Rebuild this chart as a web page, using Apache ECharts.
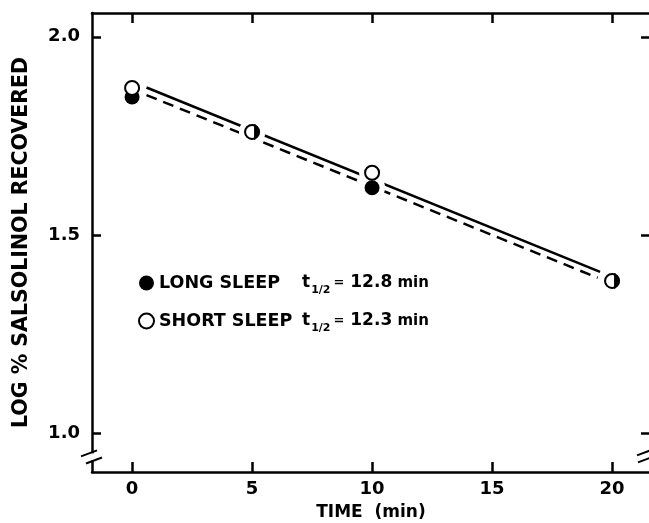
<!DOCTYPE html>
<html>
<head>
<meta charset="utf-8">
<script src="https://cdn.jsdelivr.net/npm/echarts@6/dist/echarts.min.js"></script>
<style>
  html, body { margin: 0; padding: 0; background: #fff; }
  #chart { width: 649px; height: 523px; }
</style>
</head>
<body>
<div id="chart"></div>
<script>
// 数据
const timeMin = [0, 5, 10, 20];
const longSleep = [1.848, 1.760, 1.619, 1.384];
const shortSleep = [1.871, 1.760, 1.657, 1.384];
// 回归线两端
const shortFitT = [0.6, 19.5];
const shortFitY = [1.872, 1.407];
const longFitT = [0.6, 19.4];
const longFitY = [1.853, 1.392];
const xTicks = [0, 5, 10, 15, 20];
const yTicks = [1.0, 1.5, 2.0];
const seriesNames = ['LONG SLEEP', 'SHORT SLEEP'];
const halfLives = ['12.8', '12.3'];

const font = 'DejaVu Sans';
const X_MIN = -1.67, X_MAX = 21.58;
const Y_MIN = 0.902, Y_MAX = 2.06;

const pairs = (xs, ys) => xs.map((x, i) => [x, ys[i]]);
// 两组数据重合的点画成半黑圆
const shared = timeMin
  .map((t, i) => [t, longSleep[i], shortSleep[i]])
  .filter(d => d[1] === d[2])
  .map(d => [d[0], d[1]]);

const chart = echarts.init(document.getElementById('chart'));

const baseY = {
  type: 'value',
  min: Y_MIN,
  max: Y_MAX,
  splitLine: { show: false },
  axisLine: { show: true, onZero: false, lineStyle: { color: '#000', width: 2.5 } },
  axisTick: { show: true, inside: true, length: 9, customValues: yTicks, lineStyle: { color: '#000', width: 2.5 } }
};

const txt = (size) => ({ fontFamily: font, fontWeight: 'bold', fontSize: size, color: '#000', lineHeight: 26 });

const option = {
  animation: false,
  backgroundColor: '#fff',
  grid: { left: 92, right: -1, top: 13, bottom: 51, outerBoundsMode: 'none', containLabel: false },
  legend: {
    orient: 'vertical',
    left: 133,
    top: 269,
    itemWidth: 15,
    itemHeight: 15,
    itemGap: 16,
    icon: 'circle',
    data: seriesNames,
    formatter: name => {
      const i = seriesNames.indexOf(name);
      return `{n|${name}}{t|t}{s|1/2}{e|=}{v| ${halfLives[i]}}{m| min}`;
    },
    textStyle: {
      fontFamily: font,
      fontWeight: 'bold',
      color: '#000',
      rich: {
        n: Object.assign(txt(17.5), { verticalAlign: 'middle', width: 143 }),
        t: Object.assign(txt(17), { verticalAlign: 'middle' }),
        s: Object.assign(txt(11), { verticalAlign: 'bottom', padding: [0, 3, 0, 1] }),
        e: Object.assign(txt(13), { verticalAlign: 'middle' }),
        v: Object.assign(txt(17), { verticalAlign: 'middle' }),
        m: Object.assign(txt(15), { verticalAlign: 'middle' })
      }
    }
  },
  xAxis: [
    {
      type: 'value',
      min: X_MIN,
      max: X_MAX,
      name: 'TIME  (min)',
      nameLocation: 'middle',
      nameGap: 32,
      nameTextStyle: { fontFamily: font, fontWeight: 'bold', fontSize: 17, color: '#000' },
      splitLine: { show: false },
      axisLine: { show: true, onZero: false, lineStyle: { color: '#000', width: 2.5 } },
      axisTick: { show: true, inside: true, length: 10, customValues: xTicks, lineStyle: { color: '#000', width: 2.5 } },
      axisLabel: { customValues: xTicks, margin: 8, fontFamily: font, fontWeight: 'bold', fontSize: 18, color: '#000' }
    },
    {
      type: 'value',
      position: 'top',
      min: X_MIN,
      max: X_MAX,
      splitLine: { show: false },
      axisLine: { show: true, onZero: false, lineStyle: { color: '#000', width: 2.5 } },
      axisTick: { show: true, inside: true, length: 10, customValues: xTicks, lineStyle: { color: '#000', width: 2.5 } },
      axisLabel: { show: false }
    }
  ],
  yAxis: [
    Object.assign({}, baseY, {
      name: 'LOG % SALSOLINOL RECOVERED',
      nameLocation: 'middle',
      nameGap: 60,
      nameRotate: 90,
      nameTextStyle: { fontFamily: font, fontWeight: 'bold', fontSize: 20.5, color: '#000' },
      axisLabel: { customValues: yTicks, margin: 12, formatter: v => v.toFixed(1), fontFamily: font, fontWeight: 'bold', fontSize: 18, color: '#000' }
    }),
    Object.assign({}, baseY, {
      position: 'right',
      axisLabel: { show: false }
    })
  ],
  series: [
    {
      name: 'SHORT SLEEP fit',
      type: 'line',
      data: pairs(shortFitT, shortFitY),
      symbol: 'none',
      lineStyle: { color: '#000', width: 2.5 },
      z: 1
    },
    {
      name: 'LONG SLEEP fit',
      type: 'line',
      data: pairs(longFitT, longFitY),
      symbol: 'none',
      lineStyle: { color: '#000', width: 2.5, type: [11, 7] },
      z: 1
    },
    {
      name: 'halo',
      type: 'scatter',
      data: pairs(timeMin, longSleep).concat(pairs(timeMin, shortSleep)).slice(1),
      symbol: 'circle',
      symbolSize: 26,
      itemStyle: { color: '#fff', opacity: 1 },
      silent: true,
      z: 2
    },
    {
      name: 'LONG SLEEP',
      type: 'scatter',
      data: pairs(timeMin, longSleep),
      symbol: 'circle',
      symbolSize: 15,
      itemStyle: { color: '#000', opacity: 1 },
      z: 3
    },
    {
      name: 'SHORT SLEEP',
      type: 'scatter',
      data: pairs(timeMin, shortSleep),
      symbol: 'circle',
      symbolSize: 14,
      itemStyle: { color: '#fff', borderColor: '#000', borderWidth: 2, opacity: 1 },
      z: 4
    },
    {
      name: 'shared',
      type: 'scatter',
      data: shared,
      symbol: 'path://M0,0 A10,10 0 0 1 0,20 Z',
      symbolKeepAspect: true,
      symbolSize: [8, 16],
      symbolOffset: [4, 0],
      itemStyle: { color: '#000', opacity: 1 },
      z: 5
    }
  ]
};

chart.setOption(option);

// 坐标轴断裂符号
const lp = (x, y) => chart.convertToPixel({ gridIndex: 0 }, [x, y]);
const a = lp(X_MIN, 0.949);
const b = lp(X_MIN, 0.931);
const r = lp(X_MAX, 0.949);
const slash = (cx, cy) => ({
  type: 'line',
  shape: { x1: cx - 8, y1: cy + 3, x2: cx + 8, y2: cy - 3 },
  style: { stroke: '#000', lineWidth: 2 },
  z: 100
});
chart.setOption({
  graphic: [
    { type: 'rect', shape: { x: a[0] - 4, y: a[1], width: 8, height: b[1] - a[1] }, style: { fill: '#fff' }, z: 99 },
    slash(a[0] - 3, a[1]),
    slash(a[0] + 2, b[1]),
    slash(r[0] - 5, r[1] - 1),
    slash(r[0] - 4, r[1] + 6)
  ]
});
</script>
</body>
</html>
